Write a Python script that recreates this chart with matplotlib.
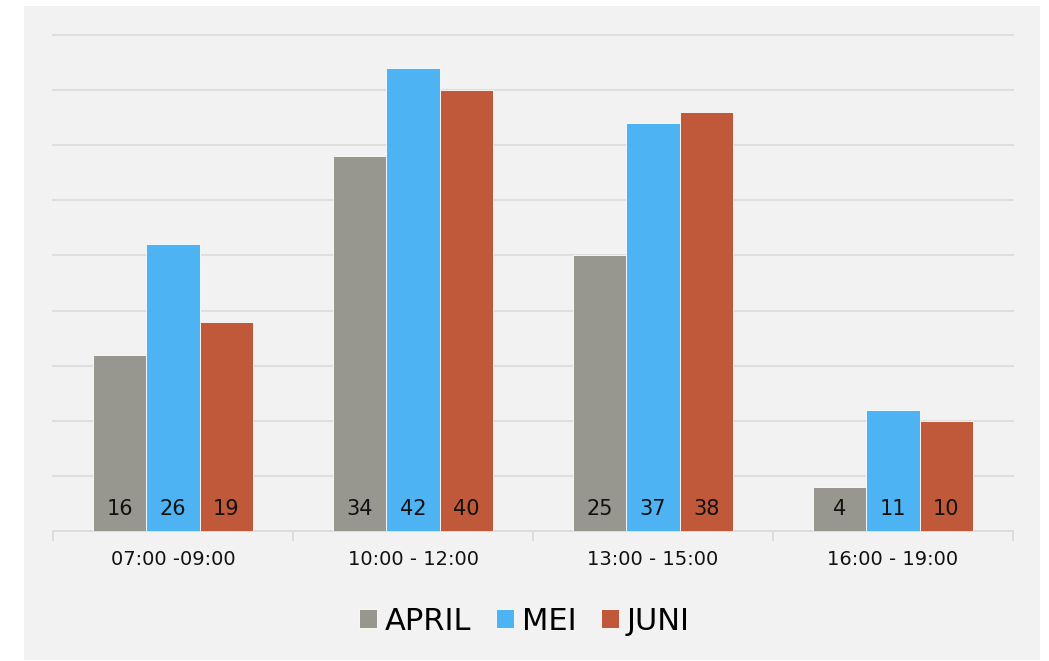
import numpy as np
from matplotlib import pyplot as plt
from matplotlib.patches import Rectangle

categories = ['07:00 -09:00', '10:00 - 12:00', '13:00 - 15:00', '16:00 - 19:00']
april = [16, 34, 25, 4]
mei = [26, 42, 37, 11]
juni = [19, 40, 38, 10]
series_names = ['APRIL', 'MEI', 'JUNI']
colors = ['#97978F', '#4EB3F3', '#C0583A']

plt.rcParams['font.family'] = ['DejaVu Sans Condensed', 'DejaVu Sans']

fig = plt.figure(figsize=(10.49, 6.61), dpi=100)
fig.patch.set_facecolor('white')
# light grey panel behind the chart
fig.patches.append(Rectangle((24 / 1049, 1 - 660 / 661), 1016 / 1049, 654 / 661,
                             transform=fig.transFigure, facecolor='#F2F2F2',
                             edgecolor='none', zorder=-10))

ax = fig.add_axes([53 / 1049, 1 - 531 / 661, 960 / 1049, 496 / 661])
ax.set_facecolor('none')

x = np.arange(len(categories))
width = 0.222
for i, (vals, name, c) in enumerate(zip([april, mei, juni], series_names, colors)):
    bars = ax.bar(x + (i - 1) * width, vals, width, color=c, label=name,
                  edgecolor='white', linewidth=0.6, zorder=3)
    for b, v in zip(bars, vals):
        ax.annotate(str(v), (b.get_x() + b.get_width() / 2, 0),
                    xytext=(0, 16), textcoords='offset points',
                    ha='center', va='center', fontsize=15, color='#111111', zorder=4)

ax.set_xlim(-0.5, len(categories) - 0.5)
ax.set_ylim(0, 45)
ax.set_yticks(np.arange(5, 46, 5))
ax.yaxis.grid(True, color='#DEDEDE', linewidth=1.5, zorder=0)
for gl in ax.get_ygridlines():
    gl.set_clip_on(False)
ax.tick_params(axis='y', length=0, labelleft=False)

ax.set_xticks(x)
ax.set_xticklabels(categories, fontsize=14, color='#111111')
ax.tick_params(axis='x', length=0, pad=14)
ax.set_xticks(np.arange(-0.5, len(categories), 1), minor=True)
ax.tick_params(axis='x', which='minor', length=7, color='#D9D9D9', width=1.2)

for s in ['top', 'right', 'left']:
    ax.spines[s].set_visible(False)
ax.spines['bottom'].set_color('#D9D9D9')
ax.spines['bottom'].set_linewidth(1.2)

fig.legend(loc='center', bbox_to_anchor=(0.5, 1 - 621 / 661), ncol=3, frameon=False,
           fontsize=22, handlelength=0.6, handleheight=0.6, handletextpad=0.25,
           columnspacing=0.8)

plt.savefig('out.png', dpi=100)
